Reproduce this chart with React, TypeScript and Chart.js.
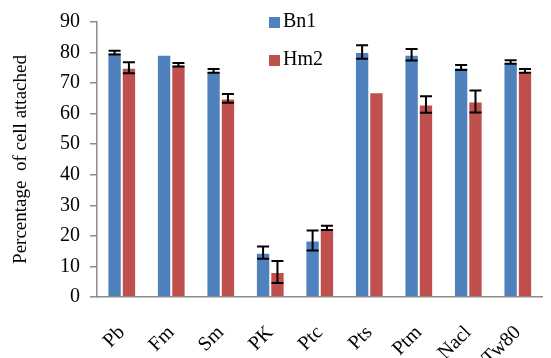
import React, { useEffect, useRef } from "react";
import { Chart, registerables } from "chart.js";

Chart.register(...registerables);

const categories = ["Pb", "Fm", "Sm", "PK", "Ptc", "Pts", "Ptm", "Nacl", "Tw80"];
const bn1Values = [80, 79.3, 74, 14.5, 18.5, 80.2, 79.3, 75.1, 76.9];
const bn1Errors = [0.6, 0, 0.6, 2, 3.3, 2.2, 1.9, 0.8, 0.6];
const hm2Values = [75, 76, 65, 8.2, 22.6, 67, 63, 64, 74];
const hm2Errors = [1.8, 0.6, 1.4, 3.6, 0.7, 0, 2.7, 3.6, 0.6];
const yTicks = [0, 10, 20, 30, 40, 50, 60, 70, 80, 90];

const FONT = "'Liberation Serif', 'Times New Roman', serif";

const errorBarPlugin = {
  id: "errorBars",
  afterDatasetsDraw(chart: any) {
    const ctx = chart.ctx;
    const yScale = chart.scales.y;
    chart.data.datasets.forEach((ds: any, i: number) => {
      const meta = chart.getDatasetMeta(i);
      meta.data.forEach((el: any, j: number) => {
        const v = ds.data[j];
        const e = ds.errors[j];
        if (!e) return;
        const yt = yScale.getPixelForValue(v + e);
        const yb = yScale.getPixelForValue(v - e);
        ctx.save();
        ctx.strokeStyle = "#000";
        ctx.lineWidth = 2;
        ctx.beginPath();
        ctx.moveTo(el.x, yt);
        ctx.lineTo(el.x, yb);
        ctx.moveTo(el.x - 6, yt);
        ctx.lineTo(el.x + 6, yt);
        ctx.moveTo(el.x - 6, yb);
        ctx.lineTo(el.x + 6, yb);
        ctx.stroke();
        ctx.restore();
      });
    });
  },
};

const legendPlugin = {
  id: "customLegend",
  afterDraw(chart: any) {
    const ctx = chart.ctx;
    ctx.save();
    chart.data.datasets.forEach((ds: any, i: number) => {
      const y = 17 + i * 38;
      ctx.fillStyle = ds.backgroundColor;
      ctx.fillRect(269, y, 11, 11);
      ctx.fillStyle = "#000";
      ctx.font = `20px ${FONT}`;
      ctx.textBaseline = "middle";
      ctx.textAlign = "left";
      ctx.fillText(ds.label, 283, y + 5);
    });
    ctx.restore();
  },
};

export default function App() {
  const ref = useRef<HTMLCanvasElement>(null);
  useEffect(() => {
    if (!ref.current) return;
    const chart = new Chart(ref.current, {
      type: "bar",
      data: {
        labels: categories,
        datasets: [
          { label: "Bn1", data: bn1Values, errors: bn1Errors, backgroundColor: "#4F81BD", borderColor: "rgba(255,255,255,0.35)", borderWidth: 1 } as any,
          { label: "Hm2", data: hm2Values, errors: hm2Errors, backgroundColor: "#C0504D", borderColor: "rgba(255,255,255,0.35)", borderWidth: 1 } as any,
        ],
      },
      options: {
        responsive: false,
        animation: false,
        layout: { padding: { top: 11, right: 4, left: 0, bottom: 0 } },
        plugins: { legend: { display: false }, tooltip: { enabled: false } },
        datasets: { bar: { categoryPercentage: 0.58, barPercentage: 1 } },
        scales: {
          x: {
            grid: { display: false },
            border: { display: true, color: "#8c8c8c", width: 1.5 },
            ticks: { color: "#000", font: { family: FONT, size: 20 }, minRotation: 45, maxRotation: 45, padding: 16 },
            afterFit(scale: any) { scale.height = 61; },
          },
          y: {
            min: 0,
            max: 90,
            afterBuildTicks(scale: any) { scale.ticks = yTicks.map((v) => ({ value: v })); },
            grid: { display: true, drawOnChartArea: false, drawTicks: true, tickLength: 7, color: "#8c8c8c", lineWidth: 1.5 },
            border: { display: true, color: "#8c8c8c", width: 1.5 },
            ticks: { color: "#000", font: { family: FONT, size: 20 }, padding: 10 },
            title: { display: true, text: "Percentage  of cell attached", color: "#000", font: { family: FONT, size: 19 }, padding: { top: 10, bottom: 0 } },
            afterFit(scale: any) { scale.width = 97; },
          },
        },
      },
      plugins: [errorBarPlugin, legendPlugin],
    });
    return () => chart.destroy();
  }, []);
  return (
    <div style={{ position: "absolute", left: 0, top: 0, width: 551, height: 358, background: "#fff" }}>
      <canvas ref={ref} width={551} height={358} />
    </div>
  );
}
